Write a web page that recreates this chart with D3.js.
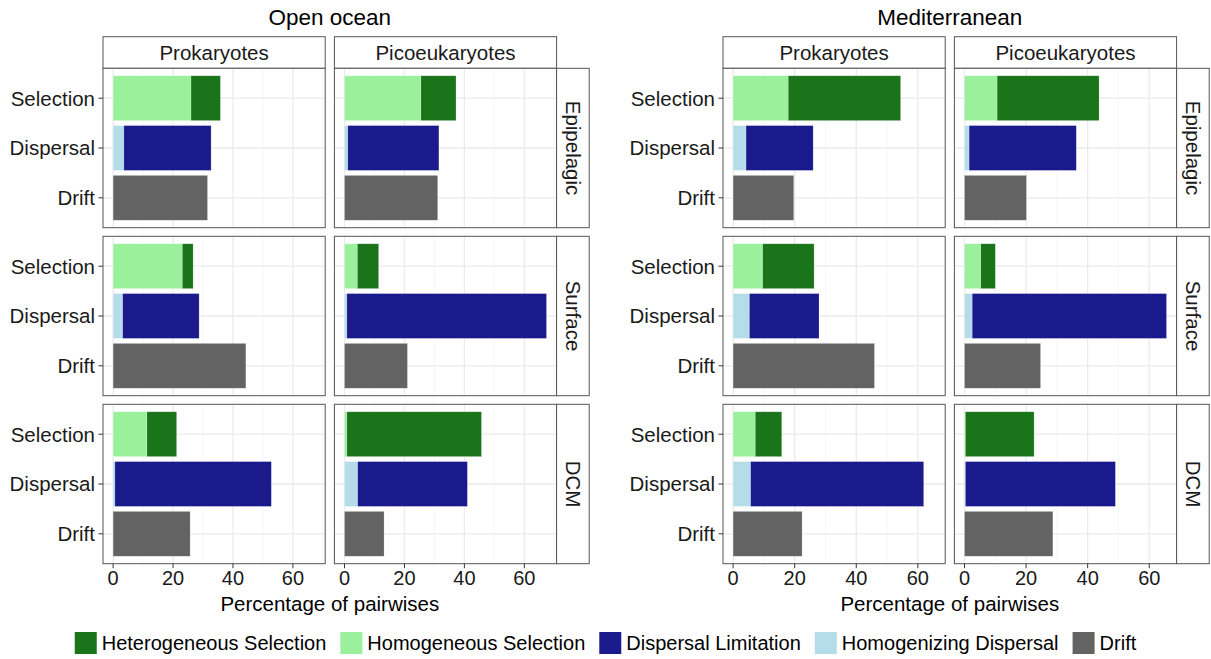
<!DOCTYPE html>
<html>
<head>
<meta charset="utf-8">
<script src="https://cdn.jsdelivr.net/npm/d3@7"></script>
<style>
  body { margin: 0; background: #fff; }
  svg { font-family: "Liberation Sans", Arial, Helvetica, sans-serif; }
</style>
</head>
<body>
<div id="chart"></div>
<script>
var regions = ["Open ocean", "Mediterranean"],
    groups = ["Prokaryotes", "Picoeukaryotes"],
    layers = ["Epipelagic", "Surface", "DCM"],
    processes = ["Selection", "Dispersal", "Drift"],
    xTicks = [0, 20, 40, 60];

// one value per facet, ordered: region > group > layer
// (Open ocean Prok Epi/Surf/DCM, Open ocean Pico ..., Med Prok ..., Med Pico ...)
var homogeneousSelection = [26.0, 23.1, 11.3, 25.5, 4.3, 0.8, 17.9, 9.6, 7.2, 10.6, 5.3, 0.3];
var heterogeneousSelection = [9.8, 3.6, 9.9, 11.7, 7.1, 44.9, 36.5, 16.7, 8.6, 33.1, 4.7, 22.3];
var homogenizingDispersal = [3.6, 3.2, 0.6, 1.1, 0.8, 4.4, 4.2, 5.3, 5.7, 1.5, 2.5, 0.3];
var dispersalLimitation = [29.1, 25.5, 52.2, 30.4, 66.6, 36.6, 21.8, 22.6, 56.2, 34.8, 63.1, 48.7];
var drift = [31.5, 44.3, 25.7, 31.1, 21.0, 13.2, 19.7, 45.9, 22.4, 20.1, 24.7, 28.7];

var legendOrder = ["Heterogeneous Selection", "Homogeneous Selection", "Dispersal Limitation", "Homogenizing Dispersal", "Drift"];
var color = d3.scaleOrdinal()
  .domain(legendOrder)
  .range(["#1a741a", "#9bf09b", "#1a1a8d", "#b5dce9", "#636363"]);

var width = 1211, height = 659;
var regionLeft = [103, 723],
    panelW = 222.2, colGap = 9.2, stripW = 32.6,
    panelTop = 68.3, panelH = 159.4, rowGap = 8.6, stripH = 31.6;

var svg = d3.select("#chart").append("svg")
  .attr("width", width)
  .attr("height", height);

var y = d3.scalePoint().domain(processes).range([0, panelH]).padding(0.6);
var barH = y.step() * 0.9;

regions.forEach(function(region, ri) {
  // per-region x scale with ggplot-like 5% expansion
  var totals = [];
  for (var k = ri * 6; k < ri * 6 + 6; k++) {
    totals.push(homogeneousSelection[k] + heterogeneousSelection[k]);
    totals.push(homogenizingDispersal[k] + dispersalLimitation[k]);
    totals.push(drift[k]);
  }
  var maxV = d3.max(totals), pad = maxV * 0.05;
  var x = d3.scaleLinear().domain([-pad, maxV + pad]).range([0, panelW]);
  var minor = [10, 30, 50, 70].filter(function(v) { return v < maxV + pad; });

  var left = regionLeft[ri];
  var g = svg.append("g").attr("transform", "translate(" + left + ",0)");

  // region title
  g.append("text")
    .attr("x", (2 * panelW + colGap) / 2)
    .attr("y", 25)
    .attr("text-anchor", "middle")
    .style("font-size", "22.5px")
    .text(region);

  groups.forEach(function(grp, gi) {
    var px = gi * (panelW + colGap);
    // column strip
    g.append("rect")
      .attr("x", px).attr("y", panelTop - stripH)
      .attr("width", panelW).attr("height", stripH)
      .attr("fill", "#fff").attr("stroke", "#555").attr("stroke-width", 1);
    g.append("text")
      .attr("x", px + panelW / 2).attr("y", panelTop - stripH / 2)
      .attr("dy", "0.36em")
      .attr("text-anchor", "middle")
      .style("font-size", "20.5px")
      .attr("fill", "#1a1a1a")
      .text(grp);

    layers.forEach(function(layer, li) {
      var k = ri * 6 + gi * 3 + li;
      var py = panelTop + li * (panelH + rowGap);
      var p = g.append("g").attr("transform", "translate(" + px + "," + py + ")");

      p.append("rect").attr("width", panelW).attr("height", panelH).attr("fill", "#fff");

      // grid
      p.selectAll(".minor").data(minor).enter().append("line")
        .attr("x1", function(d) { return x(d); }).attr("x2", function(d) { return x(d); })
        .attr("y1", 0).attr("y2", panelH)
        .attr("stroke", "#f2f2f2").attr("stroke-width", 0.7);
      p.selectAll(".major").data(xTicks).enter().append("line")
        .attr("x1", function(d) { return x(d); }).attr("x2", function(d) { return x(d); })
        .attr("y1", 0).attr("y2", panelH)
        .attr("stroke", "#ebebeb").attr("stroke-width", 1.3);
      p.selectAll(".hgrid").data(processes).enter().append("line")
        .attr("x1", 0).attr("x2", panelW)
        .attr("y1", function(d) { return y(d); }).attr("y2", function(d) { return y(d); })
        .attr("stroke", "#ebebeb").attr("stroke-width", 1.3);

      var segs = [
        {proc: "Selection", name: "Homogeneous Selection", x0: 0, v: homogeneousSelection[k]},
        {proc: "Selection", name: "Heterogeneous Selection", x0: homogeneousSelection[k], v: heterogeneousSelection[k]},
        {proc: "Dispersal", name: "Homogenizing Dispersal", x0: 0, v: homogenizingDispersal[k]},
        {proc: "Dispersal", name: "Dispersal Limitation", x0: homogenizingDispersal[k], v: dispersalLimitation[k]},
        {proc: "Drift", name: "Drift", x0: 0, v: drift[k]}
      ];
      p.selectAll(".bar").data(segs).enter().append("rect")
        .attr("x", function(d) { return x(d.x0); })
        .attr("width", function(d) { return x(d.x0 + d.v) - x(d.x0); })
        .attr("y", function(d) { return y(d.proc) - barH / 2; })
        .attr("height", barH)
        .attr("fill", function(d) { return color(d.name); })
        .attr("stroke", "#fff").attr("stroke-opacity", 0.35).attr("stroke-width", 0.6);

      p.append("rect").attr("width", panelW).attr("height", panelH)
        .attr("fill", "none").attr("stroke", "#555").attr("stroke-width", 1);

      // left axis
      if (gi === 0) {
        var ya = p.selectAll(".ytick").data(processes).enter().append("g")
          .attr("transform", function(d) { return "translate(0," + y(d) + ")"; });
        ya.append("line").attr("x1", -4.5).attr("x2", 0).attr("stroke", "#333");
        ya.append("text").attr("x", -8).attr("dy", "0.36em")
          .attr("text-anchor", "end").style("font-size", "20.5px")
          .attr("fill", "#1a1a1a")
          .text(function(d) { return d; });
      }
      // bottom axis
      if (li === layers.length - 1) {
        var xa = p.selectAll(".xtick").data(xTicks).enter().append("g")
          .attr("transform", function(d) { return "translate(" + x(d) + "," + panelH + ")"; });
        xa.append("line").attr("y1", 0).attr("y2", 4.5).attr("stroke", "#333");
        xa.append("text").attr("y", 21.5).attr("text-anchor", "middle")
          .style("font-size", "20px").attr("fill", "#1a1a1a")
          .text(function(d) { return d; });
      }
      // row strip
      if (gi === groups.length - 1) {
        p.append("rect").attr("x", panelW).attr("width", stripW).attr("height", panelH)
          .attr("fill", "#fff").attr("stroke", "#555").attr("stroke-width", 1);
        p.append("text")
          .attr("transform", "translate(" + (panelW + stripW / 2) + "," + (panelH / 2) + ") rotate(90)")
          .attr("dy", "0.36em").attr("text-anchor", "middle")
          .style("font-size", "20.5px").attr("fill", "#1a1a1a")
          .text(layer);
      }
    });
  });

  // x axis title
  g.append("text")
    .attr("x", (2 * panelW + colGap) / 2)
    .attr("y", 611)
    .attr("text-anchor", "middle")
    .style("font-size", "20.5px")
    .text("Percentage of pairwises");
});

// legend
var keyS = 22, keyGap = 5, itemGap = 14, legendY = 643;
var legend = svg.append("g");
var items = legend.selectAll(".legend").data(legendOrder).enter().append("g");
items.append("rect")
  .attr("y", legendY - keyS / 2).attr("width", keyS).attr("height", keyS)
  .attr("fill", function(d) { return color(d); });
items.append("text")
  .attr("x", keyS + keyGap).attr("y", legendY).attr("dy", "0.36em")
  .style("font-size", "20px")
  .text(function(d) { return d; });
var offs = 0, pos = [];
items.each(function() {
  pos.push(offs);
  offs += keyS + keyGap + d3.select(this).select("text").node().getComputedTextLength() + itemGap;
});
var totalW = offs - itemGap, startX = 605.5 - totalW / 2;
items.attr("transform", function(d, i) { return "translate(" + (startX + pos[i]) + ",0)"; });
</script>
</body>
</html>
